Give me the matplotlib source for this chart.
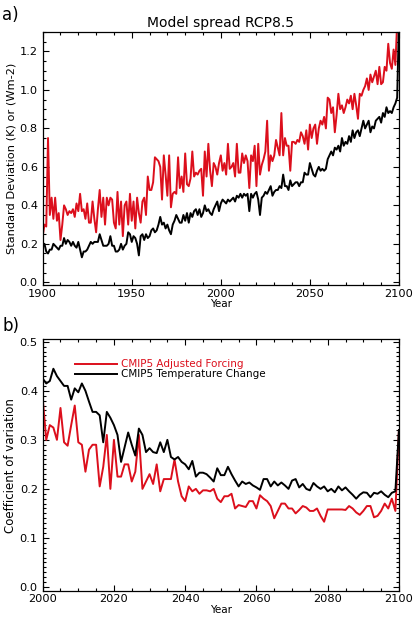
import numpy as np
import matplotlib
matplotlib.use("Agg")
import matplotlib.pyplot as plt
from matplotlib.ticker import MultipleLocator, FormatStrFormatter

# Panel a: model spread (standard deviation), RCP8.5, 1900-2100
years_a = np.arange(1900, 2101)
forcing_sd = [
    0.24, 0.30, 0.29, 0.75, 0.35, 0.44, 0.33, 0.44, 0.32, 0.36, 0.22,
    0.30, 0.40, 0.38, 0.35, 0.37, 0.36, 0.38, 0.34, 0.41, 0.37,
    0.46, 0.37, 0.38, 0.33, 0.41, 0.31, 0.31, 0.42, 0.33, 0.26,
    0.38, 0.48, 0.34, 0.44, 0.30, 0.44, 0.40, 0.44, 0.43, 0.31,
    0.28, 0.47, 0.30, 0.42, 0.24, 0.40, 0.42, 0.30, 0.46, 0.32,
    0.42, 0.28, 0.44, 0.36, 0.31, 0.42, 0.44, 0.35, 0.55, 0.48,
    0.48, 0.52, 0.65, 0.64, 0.63, 0.60, 0.43, 0.66, 0.56, 0.45,
    0.66, 0.39, 0.46, 0.47, 0.46, 0.65, 0.49, 0.55, 0.47, 0.67,
    0.51, 0.50, 0.54, 0.68, 0.55, 0.57, 0.56, 0.58, 0.59, 0.45,
    0.68, 0.55, 0.72, 0.58, 0.50, 0.62, 0.60, 0.56, 0.62, 0.66,
    0.58, 0.62, 0.56, 0.72, 0.59, 0.60, 0.62, 0.55, 0.72, 0.57,
    0.57, 0.67, 0.62, 0.66, 0.63, 0.49, 0.66, 0.63, 0.71, 0.50,
    0.72, 0.56, 0.61, 0.64, 0.68, 0.84, 0.58, 0.66, 0.63, 0.66,
    0.74, 0.70, 0.66, 0.88, 0.66, 0.75, 0.71, 0.71, 0.58, 0.73,
    0.73, 0.72, 0.74, 0.73, 0.78, 0.76, 0.72, 0.79, 0.69, 0.82,
    0.75, 0.80, 0.82, 0.72, 0.80, 0.84, 0.82, 0.86, 0.80, 0.96,
    0.95, 0.88, 0.91, 0.78, 0.87, 0.98, 0.90, 0.92, 0.88, 0.91,
    0.95, 0.93, 0.97, 0.90, 0.98, 0.92, 0.85, 0.98, 0.97, 1.00,
    1.02, 1.06, 1.00, 1.08, 1.04, 1.07, 1.10, 1.03, 1.12, 1.03,
    1.04, 1.12, 1.10, 1.24, 1.14, 1.11, 1.21, 1.13, 1.35, 1.35,
]
temp_sd = [
    0.20, 0.20, 0.16, 0.15, 0.17, 0.17, 0.20, 0.19, 0.18, 0.17, 0.19,
    0.19, 0.23, 0.20, 0.22, 0.21, 0.19, 0.21, 0.19, 0.18, 0.21,
    0.17, 0.13, 0.16, 0.16, 0.17, 0.19, 0.21, 0.20, 0.21, 0.21,
    0.21, 0.25, 0.22, 0.19, 0.19, 0.19, 0.20, 0.24, 0.19, 0.19,
    0.16, 0.16, 0.17, 0.20, 0.17, 0.19, 0.20, 0.26, 0.25, 0.21,
    0.24, 0.23, 0.20, 0.14, 0.24, 0.25, 0.22, 0.25, 0.23, 0.24,
    0.27, 0.28, 0.26, 0.27, 0.30, 0.34, 0.30, 0.31, 0.28, 0.30,
    0.27, 0.25, 0.30, 0.32, 0.35, 0.33, 0.31, 0.31, 0.35, 0.32,
    0.36, 0.31, 0.36, 0.34, 0.37, 0.38, 0.35, 0.38, 0.34, 0.36,
    0.40, 0.37, 0.38, 0.36, 0.35, 0.38, 0.40, 0.42, 0.37, 0.41,
    0.43, 0.42, 0.41, 0.43, 0.42, 0.43, 0.44, 0.42, 0.45, 0.44,
    0.46, 0.44, 0.46, 0.45, 0.46, 0.37, 0.46, 0.44, 0.46, 0.47,
    0.43, 0.35, 0.44, 0.45, 0.47, 0.46, 0.48, 0.50, 0.45, 0.47,
    0.48, 0.48, 0.50, 0.49, 0.56, 0.50, 0.50, 0.48, 0.53, 0.50,
    0.51, 0.52, 0.52, 0.50, 0.52, 0.52, 0.57, 0.56, 0.56, 0.62,
    0.59, 0.56, 0.55, 0.58, 0.60, 0.58, 0.59, 0.58, 0.59, 0.64,
    0.66, 0.68, 0.66, 0.70, 0.69, 0.71, 0.68, 0.75, 0.71, 0.73,
    0.72, 0.76, 0.73, 0.79, 0.75, 0.78, 0.79, 0.76, 0.80, 0.84,
    0.80, 0.82, 0.84, 0.78, 0.81, 0.80, 0.84, 0.85, 0.86, 0.83,
    0.88, 0.86, 0.91, 0.88, 0.89, 0.88, 0.91, 0.93, 0.96, 1.35,
]

# Panel b: coefficient of variation, 2000-2100
years_b = np.arange(2000, 2101)
forcing_cv = [
    0.385, 0.300, 0.330, 0.325, 0.300, 0.365, 0.295, 0.288, 0.330, 0.370,
    0.295, 0.290, 0.235, 0.280, 0.290, 0.290, 0.205, 0.245, 0.310, 0.200,
    0.300, 0.225, 0.225, 0.250, 0.250, 0.215, 0.235, 0.310, 0.200, 0.215,
    0.230, 0.210, 0.250, 0.195, 0.220, 0.220, 0.220, 0.260, 0.215, 0.185,
    0.175, 0.205, 0.195, 0.200, 0.190, 0.197, 0.197, 0.195, 0.200, 0.180,
    0.173, 0.185, 0.185, 0.190, 0.160, 0.167, 0.165, 0.163, 0.175, 0.175,
    0.160, 0.187, 0.180, 0.175, 0.165, 0.140, 0.155, 0.170, 0.170, 0.160,
    0.160, 0.150, 0.157, 0.165, 0.162, 0.155, 0.155, 0.160, 0.145, 0.133,
    0.158, 0.158, 0.158, 0.158, 0.158, 0.157, 0.165, 0.160, 0.152, 0.147,
    0.155, 0.165, 0.165, 0.142, 0.145, 0.155, 0.170, 0.160, 0.180, 0.155,
    0.320,
]
temp_cv = [
    0.425, 0.415, 0.420, 0.445, 0.430, 0.420, 0.410, 0.410, 0.382, 0.405,
    0.397, 0.415, 0.400, 0.378, 0.357, 0.357, 0.350, 0.295, 0.357, 0.345,
    0.330, 0.310, 0.255, 0.285, 0.315, 0.290, 0.268, 0.323, 0.310, 0.275,
    0.283, 0.275, 0.273, 0.295, 0.275, 0.300, 0.265, 0.260, 0.265, 0.255,
    0.250, 0.240, 0.257, 0.225, 0.233, 0.233, 0.230, 0.223, 0.215, 0.242,
    0.228, 0.228, 0.245, 0.230, 0.217, 0.205, 0.215, 0.210, 0.213, 0.207,
    0.203, 0.198, 0.220, 0.220, 0.205, 0.215, 0.207, 0.213, 0.207, 0.200,
    0.217, 0.220, 0.203, 0.210, 0.200, 0.197, 0.212, 0.205, 0.200, 0.205,
    0.195, 0.200, 0.193, 0.205, 0.197, 0.203, 0.195, 0.188, 0.180, 0.188,
    0.193, 0.192, 0.183, 0.192, 0.190, 0.195, 0.188, 0.183, 0.192, 0.195,
    0.320,
]

RED = '#dc0f1c'

plt.rcParams['font.family'] = ['DejaVu Sans']

fig = plt.figure(figsize=(4.16, 6.2), dpi=100)
ax1 = fig.add_axes([0.1026, 0.540, 0.8564, 0.408])
ax2 = fig.add_axes([0.1026, 0.0470, 0.8564, 0.4057])


def idl_style(ax):
    ax.tick_params(which='both', direction='in', top=True, right=True,
                   width=0.8, labelsize=8.2)
    ax.tick_params(axis='x', which='major', pad=2.5)
    ax.tick_params(axis='y', which='major', pad=3.5)
    ax.tick_params(which='major', length=4)
    ax.tick_params(which='minor', length=2)
    for s in ax.spines.values():
        s.set_linewidth(0.9)


# a) standard deviation
ax1.plot(years_a, forcing_sd, color=RED, lw=1.4)
ax1.plot(years_a, temp_sd, color='black', lw=1.4)
ax1.set_xlim(1900, 2100)
ax1.set_ylim(-0.015, 1.3)
ax1.xaxis.set_major_locator(MultipleLocator(50))
ax1.xaxis.set_minor_locator(MultipleLocator(10))
ax1.yaxis.set_major_locator(MultipleLocator(0.2))
ax1.yaxis.set_minor_locator(MultipleLocator(0.05))
ax1.yaxis.set_major_formatter(FormatStrFormatter('%.1f'))
idl_style(ax1)
ax1.set_title('Model spread RCP8.5', fontsize=10, pad=4)
ax1.set_xlabel('Year', fontsize=7.5, labelpad=0.5)
ax1.set_ylabel('Standard Deviation (K) or (Wm-2)', fontsize=8.2, labelpad=2)
fig.text(0.005, 0.975, 'a)', fontsize=12, va='center', ha='left')

# b) coefficient of variation
ax2.plot(years_b, forcing_cv, color=RED, lw=1.4)
ax2.plot(years_b, temp_cv, color='black', lw=1.4)
ax2.set_xlim(2000, 2100)
ax2.set_ylim(-0.008, 0.505)
ax2.xaxis.set_major_locator(MultipleLocator(20))
ax2.xaxis.set_minor_locator(MultipleLocator(5))
ax2.yaxis.set_major_locator(MultipleLocator(0.1))
ax2.yaxis.set_minor_locator(MultipleLocator(0.01))
ax2.yaxis.set_major_formatter(FormatStrFormatter('%.1f'))
idl_style(ax2)
ax2.set_xlabel('Year', fontsize=7.5, labelpad=0.5)
ax2.set_ylabel('Coefficient of variation', fontsize=8.5, labelpad=2)
fig.text(0.005, 0.474, 'b)', fontsize=12, va='center', ha='left')

# legend drawn as in the original: short line, coloured label
ax2.plot([2009, 2021], [0.455, 0.455], color=RED, lw=1.4)
ax2.plot([2009, 2021], [0.435, 0.435], color='black', lw=1.4)
ax2.text(2022, 0.455, 'CMIP5 Adjusted Forcing', color=RED, fontsize=7.5,
         va='center')
ax2.text(2022, 0.435, 'CMIP5 Temperature Change', color='black',
         fontsize=7.5, va='center')

fig.savefig('out.png', dpi=100)
